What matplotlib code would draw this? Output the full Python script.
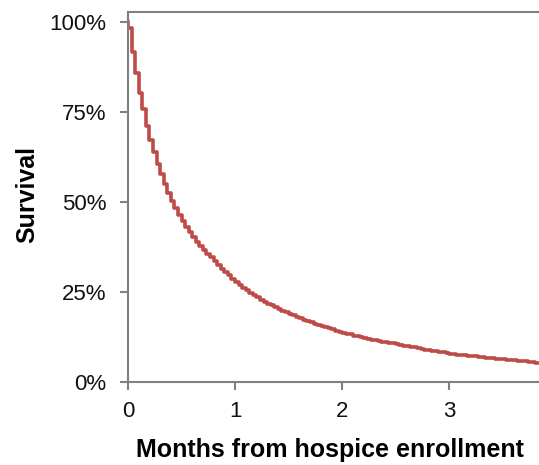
import matplotlib
matplotlib.use("Agg")
import matplotlib.pyplot as plt
from matplotlib.ticker import FuncFormatter

# survival (%) after each day of follow-up
days = list(range(0, 117))
survival = [
    98.3, 91.7, 85.8, 80.3, 75.8, 71.1, 67.2, 63.9, 60.6, 57.8,
    55.0, 52.5, 50.2, 48.3, 46.5, 44.8, 43.2, 41.7, 40.3, 39.0,
    37.8, 36.7, 35.7, 34.6, 33.5, 32.5, 31.5, 30.5, 29.6, 28.7,
    27.8, 27.0, 26.2, 25.5, 24.8, 24.1, 23.5, 22.9, 22.3, 21.8,
    21.3, 20.8, 20.3, 19.8, 19.4, 18.9, 18.5, 18.1, 17.7, 17.3,
    16.9, 16.6, 16.2, 15.9, 15.5, 15.2, 14.9, 14.6, 14.3, 14.0,
    13.7, 13.4, 13.2, 12.9, 12.7, 12.4, 12.2, 12.0, 11.8, 11.6,
    11.4, 11.2, 11.0, 10.9, 10.7, 10.5, 10.3, 10.1, 9.9, 9.8,
    9.6, 9.4, 9.2, 9.0, 8.9, 8.7, 8.5, 8.3, 8.2, 8.0,
    7.8, 7.7, 7.6, 7.5, 7.4, 7.3, 7.2, 7.1, 7.0, 6.9,
    6.8, 6.7, 6.6, 6.5, 6.4, 6.3, 6.2, 6.1, 6.0, 5.9,
    5.8, 5.7, 5.6, 5.5, 5.4, 5.3, 5.2,
]
x_ticks = [0, 1, 2, 3]
y_ticks = [0, 25, 50, 75, 100]

plt.rcParams['font.family'] = ['Liberation Sans', 'DejaVu Sans']

months = [0] + [d / 30 for d in days]
surv = [100] + survival

fig = plt.figure(figsize=(5.39, 4.65), dpi=100)
ax = fig.add_axes([0.2375, 0.1785, 0.7625, 0.7955])
ax.step(months, surv, where='post', color='#BE4B48', lw=2.6)

ax.set_xlim(0, 3.84)
ax.set_ylim(0, 102.8)
ax.set_xticks(x_ticks)
ax.set_yticks(y_ticks)
ax.yaxis.set_major_formatter(FuncFormatter(lambda v, p: f"{v:.0f}%"))

for side in ['left', 'bottom', 'top']:
    ax.spines[side].set_color('#808080')
    ax.spines[side].set_linewidth(1.5)
ax.spines['right'].set_visible(False)
ax.tick_params(direction='out', length=5.5, width=1.5, color='#808080',
               labelsize=16, labelcolor='#111111')
ax.tick_params(axis='x', pad=8)
ax.tick_params(axis='y', pad=10)

ax.set_xlabel('Months from hospice enrollment', fontsize=18, fontweight='bold')
ax.set_ylabel('Survival', fontsize=18, fontweight='bold')
ax.xaxis.set_label_coords(0.491, -0.1515)
ax.yaxis.set_label_coords(-0.215, 0.506)

fig.savefig('out.png', dpi=100)
